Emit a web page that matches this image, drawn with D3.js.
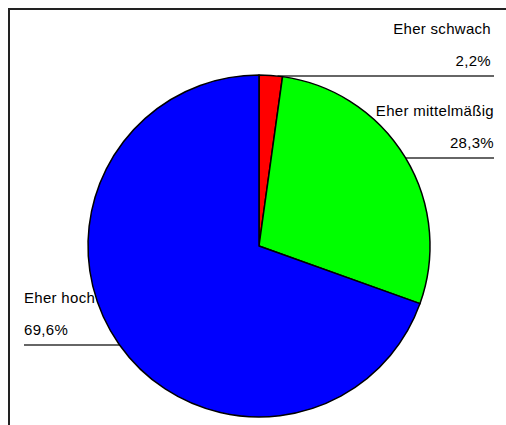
<!DOCTYPE html>
<html>
<head>
<meta charset="utf-8">
<script src="https://cdn.jsdelivr.net/npm/d3@7"></script>
<style>
  html, body { margin: 0; padding: 0; background: #fff; }
  svg { display: block; }
  text { font-family: Arial, "Liberation Sans", sans-serif; font-size: 15px; letter-spacing: 0.3px; fill: #000; }
</style>
</head>
<body>
<svg id="chart" width="506" height="425"></svg>
<script>
// Data
const categories = ["Eher schwach", "Eher mittelmäßig", "Eher hoch"];
const values = [2.2, 28.3, 69.6];
const valueLabels = ["2,2%", "28,3%", "69,6%"];
const colors = ["#ff0000", "#00ff00", "#0000ff"];

const svg = d3.select("#chart");

// Frame
svg.append("rect")
  .attr("x", 9).attr("y", 9)
  .attr("width", 520).attr("height", 440)
  .attr("fill", "none").attr("stroke", "#222").attr("stroke-width", 2);

const cx = 259, cy = 246, r = 171;

// Labels layout
const layout = [
  { lineY: 76, side: "right", textX: 491, lineEnd: 494 },
  { lineY: 158, side: "right", textX: 494, lineEnd: 494 },
  { lineY: 345, side: "left", textX: 24, lineEnd: 24 }
];

const labelLayer = svg.append("g");
layout.forEach((L, i) => {
  const dy = L.lineY - cy;
  const dx = Math.sqrt(Math.max(0, r * r - dy * dy));
  const edgeX = L.side === "right" ? cx + dx : cx - dx;
  labelLayer.append("line")
    .attr("x1", edgeX).attr("y1", L.lineY)
    .attr("x2", L.lineEnd).attr("y2", L.lineY)
    .attr("stroke", "#333").attr("stroke-width", 1.5);
  const anchor = L.side === "right" ? "end" : "start";
  labelLayer.append("text")
    .attr("x", L.textX).attr("y", L.lineY - 42)
    .attr("text-anchor", anchor)
    .text(categories[i]);
  labelLayer.append("text")
    .attr("x", L.textX).attr("y", L.lineY - 10.5)
    .attr("text-anchor", anchor)
    .text(valueLabels[i]);
});

const g = svg.append("g").attr("transform", `translate(${cx},${cy})`);
const pie = d3.pie().sort(null).value(d => d)
  .startAngle(0).endAngle(2 * Math.PI);
const arcs = pie(values);
const arc = d3.arc().innerRadius(0).outerRadius(r);

g.selectAll("path.slice")
  .data(arcs)
  .enter().append("path")
  .attr("class", "slice")
  .attr("d", arc)
  .attr("fill", (d, i) => colors[i])
  .attr("stroke", "#000")
  .attr("stroke-width", 1.5)
  .attr("stroke-linejoin", "round");
</script>
</body>
</html>
